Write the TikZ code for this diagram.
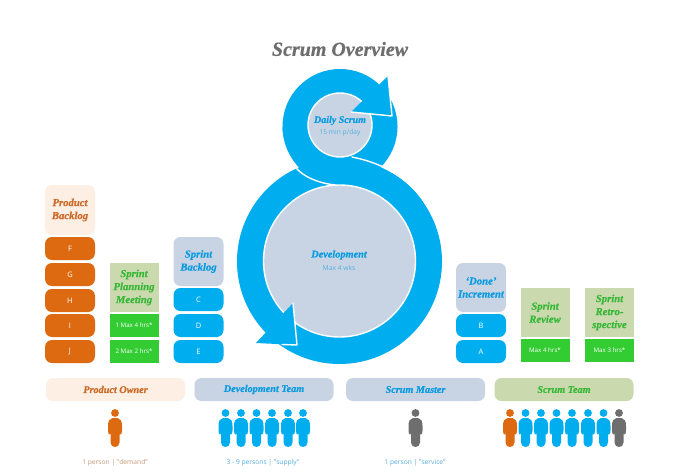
\documentclass[tikz,border=0pt]{standalone}
\usepackage{fontspec}
\setmainfont{Open Sans}
\newfontfamily\scriptish{Liberation Serif}[BoldItalicFeatures={FakeBold=0.6}]
\definecolor{sky}{HTML}{00AEEF}
\definecolor{rust}{HTML}{DD6A10}
\definecolor{leaf}{HTML}{33CC33}
\definecolor{leaftext}{HTML}{38B838}
\definecolor{sage}{HTML}{CBD9AE}
\definecolor{mist}{HTML}{C8D4E4}
\definecolor{peach}{HTML}{FDEFE4}
\definecolor{slate}{HTML}{6E6E6E}
\definecolor{skytext}{HTML}{0A9BE0}
\definecolor{fadesky}{HTML}{55AEDC}
\definecolor{faderust}{HTML}{C89A78}
\definecolor{rusttext}{HTML}{CC6A28}
\tikzset{
  x=1pt,y=-1pt,
  every node/.style={inner sep=0pt,outer sep=0pt,align=center},
  hand/.style={font=\scriptish\bfseries\itshape\fontsize{10.7}{13}\selectfont},
  card/.style={minimum width=50pt,anchor=north,rounded corners=7pt},
  itemo/.style={card,fill=rust,text=white,minimum height=23pt,font=\fontsize{7.5}{9}\selectfont},
  itemb/.style={card,fill=sky,text=white,minimum height=23pt,font=\fontsize{7.5}{9}\selectfont},
  greenbox/.style={minimum width=49pt,anchor=north,fill=leaf,text=white,minimum height=23pt,font=\fontsize{6.2}{9}\selectfont},
  sagebox/.style={minimum width=49pt,anchor=north,fill=sage,text=leaftext,hand},
  bluecard/.style={card,fill=mist,text=skytext,hand},
  banner/.style={rounded corners=7pt,minimum width=139pt,minimum height=23pt,anchor=north west,font=\scriptish\bfseries\itshape\fontsize{10.2}{12}\selectfont},
  note/.style={font=\fontsize{6.7}{9}\selectfont},
  gap/.style={draw=white,line width=1.4pt,line cap=round,line join=round},
  person/.pic={
    \fill[pic actions] (0,-15) circle (3.9);
    \fill[pic actions] (-2.5,-10) .. controls (-5.5,-9.5) and (-7,-7) .. (-7,-2)
      -- (-7,2.5) .. controls (-7,7) and (-4.8,7.5) .. (-4.5,5)
      -- (-4.5,14.5) .. controls (-4.5,20.5) and (4.5,20.5) .. (4.5,14.5)
      -- (4.5,5) .. controls (4.8,7.5) and (7,7) .. (7,2.5)
      -- (7,-2) .. controls (7,-7) and (5.5,-9.5) .. (2.5,-10) -- cycle;
  },
}
\begin{document}
\begin{tikzpicture}
\useasboundingbox (0,0) rectangle (682,476);
\fill[white] (0,0) rectangle (682,476);

\node[font=\scriptish\bfseries\itshape\fontsize{20}{23}\selectfont,text=slate] (title) at (340,49) {Scrum Overview};

% Figure-eight loop: two discs, the crossing band, then the arrowheads
\fill[sky] (339.5,261.5) circle (102.5);
\fill[sky] (340,126.5) circle (57.5);
\fill[sky] (282.5,126.5) .. controls (283,148) and (296,180) .. (335,185)
  -- (428,210) .. controls (415,185) and (392,168) .. (352,157) -- cycle;
\draw[gap] (352,157) .. controls (392,165) and (415,185) .. (428,208);
\draw[gap] (296,168) .. controls (304,177) and (318,183) .. (335,185);

\node[circle,fill=mist,draw=white,line width=1.4pt,minimum size=152pt] (dev) at (339.5,261) {};
\node[circle,fill=mist,draw=white,line width=1.4pt,minimum size=64pt] (daily) at (340,125) {};

\fill[sky] (388,76) -- (392,116) -- (351,112) -- cycle;
\draw[gap] (388,76) -- (392,116) -- (351,112);
\fill[sky] (293,303) -- (297,345) -- (256,343) -- cycle;
\draw[gap] (293,303) -- (297,345) -- (282,344.5);

\node[text=skytext,font=\scriptish\bfseries\itshape\fontsize{10}{11}\selectfont] (dailyt) at (340,120.5) {Daily Scrum};
\node[note,text=fadesky] (dailyn) at (340,133) {15 min p/day};
\node[text=skytext,font=\scriptish\bfseries\itshape\fontsize{10.3}{12}\selectfont] (devt) at (339,255) {Development};
\node[note,text=fadesky] (devn) at (339,267.5) {Max 4 wks};

% Product backlog
\node[card,fill=peach,text=rusttext,hand,minimum height=50pt] (pb) at (70,185) {Product\\Backlog};
\foreach \n/\t/\y in {f/F/237,g/G/263,h/H/289,i/I/314,j/J/340}
  \node[itemo] (\n) at (70,\y) {\t};

% Sprint planning
\node[sagebox,minimum height=49pt] (spm) at (134,263) {Sprint\\Planning\\Meeting};
\node[greenbox] (m1) at (134,314) {1 Max 4 hrs*};
\node[greenbox] (m2) at (134,340) {2 Max 2 hrs*};

% Sprint backlog
\node[bluecard,minimum height=49pt] (sb) at (198.5,237) {Sprint\\Backlog};
\foreach \n/\t/\y in {c/C/288,d/D/314,e/E/340}
  \node[itemb] (\n) at (198.5,\y) {\t};

% Done increment
\node[bluecard,minimum height=49pt] (inc) at (481,263) {‘Done’\\Increment};
\node[itemb] (b) at (481,314) {B};
\node[itemb] (a) at (481,340) {A};

% Review and retrospective
\node[sagebox,minimum height=49pt] (rev) at (545,288) {Sprint\\Review};
\node[greenbox] (revm) at (545,339) {Max 4 hrs*};
\node[sagebox,minimum height=49pt] (ret) at (609.5,288) {Sprint\\Retro-\\spective};
\node[greenbox] (retm) at (609.5,339) {Max 3 hrs*};

% Role banners
\node[banner,fill=peach,text=rusttext] (po) at (46,378) {Product Owner};
\node[banner,fill=mist,text=skytext] (dt) at (194.5,378) {Development Team};
\node[banner,fill=mist,text=skytext] (sm) at (346,378) {Scrum Master};
\node[banner,fill=sage,text=leaftext] (st) at (494.5,378) {Scrum Team};

% People
\pic[fill=rust] at (115,428) {person};
\foreach \x in {225.5,241,256.5,272,288,303}
  \pic[fill=sky] at (\x,428) {person};
\pic[fill=slate] at (415.5,428) {person};
\pic[fill=rust] at (510,428) {person};
\foreach \x in {525.5,541,556.5,572,588,603.5}
  \pic[fill=sky] at (\x,428) {person};
\pic[fill=slate] at (619,428) {person};

\node[note,text=faderust] (n1) at (115,463) {1 person | "demand"};
\node[note,text=fadesky] (n2) at (263,463) {3 - 9 persons | "supply"};
\node[note,text=fadesky] (n3) at (415,463) {1 person | "service"};
\end{tikzpicture}
\end{document}
